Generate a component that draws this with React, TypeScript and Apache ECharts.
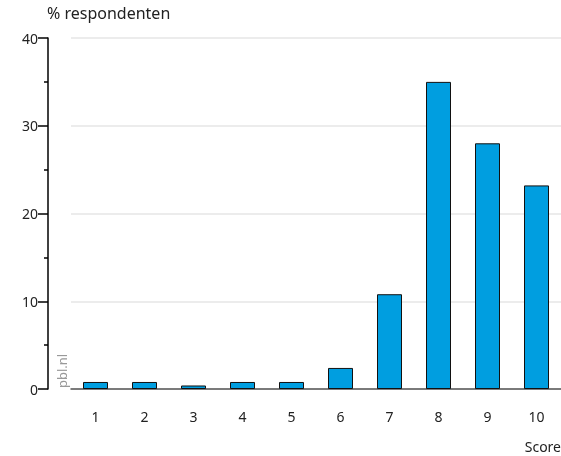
import React, { useEffect, useRef } from "react";
import * as echarts from "echarts";

const categories = ["1", "2", "3", "4", "5", "6", "7", "8", "9", "10"];
const values = [0.8, 0.8, 0.4, 0.8, 0.8, 2.4, 10.8, 35, 28, 23.2];
const yTicks = [0, 10, 20, 30, 40];
const yTitle = "% respondenten";
const xTitle = "Score";
const credit = "pbl.nl";

export default function App() {
  const ref = useRef<HTMLDivElement>(null);
  useEffect(() => {
    if (!ref.current) return;
    const chart = echarts.init(ref.current, undefined, { renderer: "svg" });
    const font = "Noto Sans";
    chart.setOption({
      animation: false,
      textStyle: { fontFamily: font },
      grid: { left: 71, right: 0, top: 38, bottom: 67, containLabel: false },
      graphic: [
        { type: "text", left: 47, top: 5, style: { text: yTitle, fontSize: 16, fontFamily: font, fill: "#222" } },
        { type: "text", right: 0, top: 439, style: { text: xTitle, fontSize: 14, fontFamily: font, fill: "#222" } },
        {
          type: "text",
          x: 55,
          y: 388,
          rotation: Math.PI / 2,
          style: { text: credit, fontSize: 13, fontFamily: font, fill: "#999", align: "left", verticalAlign: "top" },
        },
      ],
      xAxis: {
        type: "category",
        data: categories,
        axisLine: { lineStyle: { color: "#555", width: 1.5 } },
        axisTick: { show: false },
        axisLabel: { color: "#222", fontSize: 14, margin: 20 },
        splitLine: { show: false },
      },
      yAxis: {
        type: "value",
        min: yTicks[0],
        max: yTicks[yTicks.length - 1],
        interval: 10,
        offset: 23,
        axisLine: { show: true, lineStyle: { color: "#000", width: 1.5 } },
        axisTick: { show: true, length: 10, lineStyle: { color: "#000", width: 1.5 } },
        minorTick: { show: true, splitNumber: 2, length: 4, lineStyle: { color: "#000", width: 1.5 } },
        axisLabel: { color: "#222", fontSize: 14, margin: 10 },
        splitLine: { show: true, lineStyle: { color: "#e6e6e6", width: 1.5 } },
      },
      series: [
        {
          type: "bar",
          data: values,
          barWidth: 25,
          itemStyle: { color: "#009ee0", borderColor: "#111", borderWidth: 1 },
        },
      ],
    });
    return () => chart.dispose();
  }, []);
  return <div ref={ref} style={{ width: 561, height: 456, position: "fixed", left: 0, top: 0 }} />;
}
